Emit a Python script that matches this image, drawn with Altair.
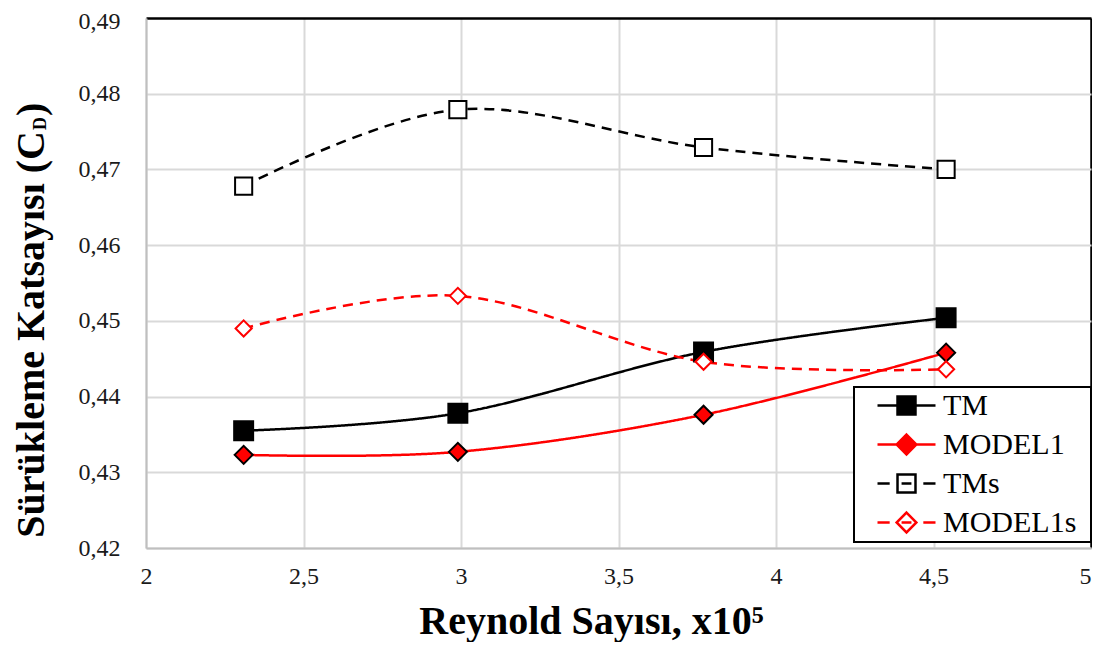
import altair as alt
import pandas as pd

# ---- data ----
reynolds = [2.31, 2.99, 3.77, 4.54]
series_names = ["TM", "MODEL1", "TMs", "MODEL1s"]
tm = [0.4355, 0.4378, 0.4459, 0.4504]
model1 = [0.4323, 0.4327, 0.4376, 0.4458]
tms = [0.4678, 0.4779, 0.4729, 0.4700]
model1s = [0.4490, 0.4533, 0.4446, 0.4436]
x_ticks = [2, 2.5, 3, 3.5, 4, 4.5, 5]
y_ticks = [0.42, 0.43, 0.44, 0.45, 0.46, 0.47, 0.48, 0.49]

rows = []
for name, vals in zip(series_names, [tm, model1, tms, model1s]):
    for xv, yv in zip(reynolds, vals):
        rows.append({"series": name, "re": xv, "cd": yv})
df = pd.DataFrame(rows)

RED = "#ff0000"
FONT = "Liberation Serif"

x_enc = alt.X(
    "re:Q",
    scale=alt.Scale(domain=[2, 5], nice=False, zero=False),
    axis=alt.Axis(
        values=x_ticks,
        labelExpr="replace(format(datum.value, '.1~f'), '.', ',')",
        ticks=False,
        domainColor="#bfbfbf",
        domainWidth=2,
        gridColor=alt.condition("datum.value >= 4.999", alt.value("black"), alt.value("#d9d9d9")),
        gridWidth=alt.condition("datum.value >= 4.999", alt.value(2.5), alt.value(2)),
        labelFont=FONT,
        labelFontSize=24,
        labelColor="#1a1a1a",
        labelPadding=16,
        labelFlush=False,
        labelAlign=alt.condition("datum.value >= 4.999", alt.value("right"), alt.value("center")),
        title="Reynold Sayısı, x10⁵",
        titleFont=FONT,
        titleFontSize=40,
        titleFontWeight="bold",
        titleColor="black",
        titleX=445,
        titleY=85,
        titleAlign="center",
        titleBaseline="alphabetic",
    ),
)
y_enc = alt.Y(
    "cd:Q",
    scale=alt.Scale(domain=[0.42, 0.49], nice=False, zero=False),
    axis=alt.Axis(
        values=y_ticks,
        labelExpr="replace(format(datum.value, '.2f'), '.', ',')",
        ticks=False,
        domainColor="#bfbfbf",
        domainWidth=2,
        gridColor=alt.condition("datum.value >= 0.4895", alt.value("black"), alt.value("#d9d9d9")),
        gridWidth=alt.condition("datum.value >= 0.4895", alt.value(2.5), alt.value(2)),
        labelFont=FONT,
        labelFontSize=24,
        labelColor="#1a1a1a",
        labelPadding=26,
        labelFlush=False,
        labelOffset=alt.condition("datum.value >= 0.4895", alt.value(3), alt.value(0)),
        title=None,
    ),
)

line = alt.Chart(df).mark_line(interpolate="cardinal", strokeWidth=2.5).encode(
    x=x_enc,
    y=y_enc,
    color=alt.Color("series:N", scale=alt.Scale(domain=series_names, range=["black", RED, "black", RED]), legend=None),
    strokeDash=alt.StrokeDash("series:N", scale=alt.Scale(domain=series_names, range=[[1, 0], [1, 0], [10, 7], [10, 7]]), legend=None),
)

pts = alt.Chart(df).mark_point(filled=True, strokeWidth=2, opacity=1).encode(
    x=x_enc,
    y=y_enc,
    shape=alt.Shape("series:N", scale=alt.Scale(domain=series_names, range=["square", "diamond", "square", "diamond"]), legend=None),
    fill=alt.Fill("series:N", scale=alt.Scale(domain=series_names, range=["black", RED, "white", "white"]), legend=None),
    stroke=alt.Stroke("series:N", scale=alt.Scale(domain=series_names, range=["black", "black", "black", RED]), legend=None),
    size=alt.Size("series:N", scale=alt.Scale(domain=series_names, range=[360, 260, 300, 250]), legend=None),
)

legend_paths = [
    "M-1,0H1M-0.31,-0.31H0.31V0.31H-0.31Z",
    "M-1,0H1M0,-0.34L0.34,0L0,0.34L-0.34,0Z",
    "M-1,0H-0.58M0.58,0H1M-0.31,-0.31H0.31V0.31H-0.31ZM-0.17,0H0.17",
    "M-1,0H-0.58M0.58,0H1M0,-0.34L0.34,0L0,0.34L-0.34,0ZM-0.17,0H0.17",
]


def make_legend():
    return alt.Legend(
        title=None,
        orient="none",
        legendX=708,
        legendY=369,
        padding=4,
        clipHeight=29,
        rowPadding=8,
        symbolOffset=18,
        labelOffset=6,
        symbolSize=3364,
        symbolStrokeWidth=2.5,
        symbolOpacity=1,
        labelFont=FONT,
        labelFontSize=30,
        labelColor="black",
        labelBaseline="middle",
        labelExpr="datum.label + '\u00a0\u200a\u200b'",
        strokeColor="black",
        fillColor="white",
    )


leg = alt.Chart(df).mark_point(filled=True, opacity=0, size=3364, strokeWidth=2.5).encode(
    x=x_enc,
    y=y_enc,
    shape=alt.Shape("series:N", scale=alt.Scale(domain=series_names, range=legend_paths), legend=make_legend()),
    fill=alt.Fill("series:N", scale=alt.Scale(domain=series_names, range=["black", RED, "white", "white"]), legend=make_legend()),
    stroke=alt.Stroke("series:N", scale=alt.Scale(domain=series_names, range=["black", RED, "black", RED]), legend=make_legend()),
)

one = pd.DataFrame({"k": [0]})
ytitle_main = alt.Chart(one).mark_text(
    text="Sürükleme Katsayısı (C", angle=270, align="right", baseline="alphabetic",
    font=FONT, fontSize=40, fontWeight="bold", color="black",
).encode(x=alt.value(-102), y=alt.value(113))
ytitle_sub = alt.Chart(one).mark_text(
    text="D", angle=270, align="left", baseline="alphabetic",
    font=FONT, fontSize=18, fontWeight="bold", color="black",
).encode(x=alt.value(-100), y=alt.value(112))
ytitle_end = alt.Chart(one).mark_text(
    text=")", angle=270, align="left", baseline="alphabetic",
    font=FONT, fontSize=40, fontWeight="bold", color="black",
).encode(x=alt.value(-102), y=alt.value(98))

chart = (
    alt.layer(line, pts, leg, ytitle_main, ytitle_sub, ytitle_end)
    .resolve_scale(shape="independent", fill="independent", stroke="independent", size="independent")
    .properties(
        width=945,
        height=530,
        autosize=alt.AutoSizeParams(type="none"),
        padding={"left": 138, "top": 10, "right": 1, "bottom": 94},
    )
    .configure_view(stroke=None)
    .configure_legend(strokeWidth=2)
)

chart.save("out.html", embed_options={"renderer": "svg", "actions": False})
